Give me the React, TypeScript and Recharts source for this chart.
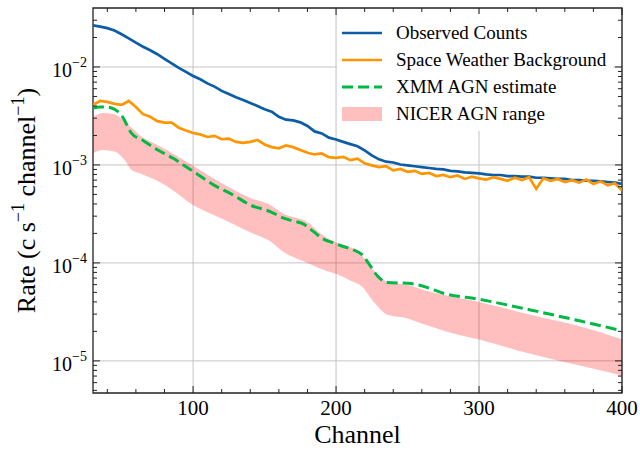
import React from "react"
import { ComposedChart, Line, Area, XAxis, YAxis, CartesianGrid, Legend, ReferenceArea } from "recharts"

const SERIF = '"Liberation Serif", "DejaVu Serif", "Times New Roman", serif'
const BLUE = "#0C5DA5"
const ORANGE = "#FF9500"
const GREEN = "#00B945"
const AXIS = "#222"

const CHART_W = 640
const CHART_H = 450
const MARGIN = { top: 8, right: 18, bottom: 0, left: 0 }
const Y_AXIS_W = 93
const X_AXIS_H = 57
const PLOT_W = CHART_W - MARGIN.left - MARGIN.right - Y_AXIS_W
const PLOT_H = CHART_H - MARGIN.top - MARGIN.bottom - X_AXIS_H

// detector channels, one every 5
const gridChannels = Array.from({ length: 75 }, (_, i) => 30 + i * 5)

const observed = [
  0.0266, 0.0258, 0.0249, 0.0236, 0.0216, 0.0196, 0.0177, 0.0161, 0.0148, 0.0135,
  0.0121, 0.0109, 0.0098, 0.0089, 0.0081, 0.0075, 0.0068, 0.0063, 0.0057, 0.0053,
  0.0049, 0.0046, 0.0043, 0.004, 0.0037, 0.0035, 0.0031, 0.0029, 0.00285, 0.00272,
  0.0025, 0.0022, 0.0021, 0.0019, 0.00182, 0.00172, 0.00163, 0.00155, 0.00141, 0.00125,
  0.00114, 0.00108, 0.00106, 0.00101, 0.00099, 0.00097, 0.00095, 0.00093, 0.00091, 0.0009,
  0.00087, 0.00086, 0.00084, 0.00083, 0.00082, 0.0008, 0.00079, 0.00079, 0.00077, 0.00077,
  0.00076, 0.00076, 0.00074, 0.00074, 0.00073, 0.00072, 0.00072, 0.0007, 0.0007, 0.00069,
  0.00069, 0.00068, 0.00067, 0.00066, 0.00064,
]

const background = [
  0.0041, 0.0045, 0.0044, 0.0042, 0.0041, 0.0045, 0.0039, 0.0033, 0.0031, 0.0028,
  0.0027, 0.0027, 0.0024, 0.00225, 0.00212, 0.00205, 0.00193, 0.00198, 0.00183, 0.00186,
  0.00172, 0.00168, 0.00172, 0.0018, 0.00162, 0.00152, 0.00148, 0.00158, 0.00152, 0.00142,
  0.00133, 0.00128, 0.00131, 0.0012, 0.00118, 0.00121, 0.00112, 0.00116, 0.00104, 0.00099,
  0.00095, 0.00097, 0.00088, 0.00091, 0.00085, 0.00087, 0.00081, 0.00083, 0.00077, 0.00079,
  0.00075, 0.00078, 0.00072, 0.00076, 0.00073, 0.00071, 0.00075, 0.00072, 0.00069, 0.00074,
  0.0007, 0.00075, 0.00057, 0.00073, 0.00069, 0.00072, 0.00067, 0.0007, 0.00066, 0.00071,
  0.00064, 0.00068, 0.00062, 0.00065, 0.00055,
]

const xmmChannels = [
  30, 35, 40, 45, 50, 57, 65, 75, 86, 100, 114, 128, 140, 154, 163, 170, 177, 184, 191,
  198, 205, 212, 218, 223, 229, 236, 250, 264, 275, 300, 336, 371, 400,
]
const xmmEstimate = [
  0.0038, 0.0039, 0.0039, 0.0037, 0.0032, 0.0021, 0.00178, 0.00143, 0.00117, 0.00086,
  0.00063, 0.000494, 0.00039, 0.000334, 0.000288, 0.000268, 0.00025, 0.00021, 0.000176,
  0.00016, 0.000147, 0.000136, 0.000122, 0.000098, 0.0000735, 0.000063, 0.000062,
  0.000056, 0.000049, 0.0000426, 0.0000331, 0.0000255, 0.0000203,
]

const nicerChannels = [
  30, 37, 45, 52, 57, 63, 75, 86, 100, 114, 128, 140, 154, 163, 180, 191, 201, 210, 218,
  227, 236, 250, 263, 277, 300, 336, 371, 400,
]
const nicerLow = [
  0.00132, 0.00142, 0.00137, 0.00113, 0.00089, 0.00082, 0.00069, 0.00055, 0.00039,
  0.00031, 0.00025, 0.000205, 0.000166, 0.00013, 0.0001, 0.000085, 0.000076, 0.000066,
  0.0000575, 0.0000389, 0.0000295, 0.0000271, 0.0000232, 0.00002, 0.0000165, 0.0000118,
  0.0000089, 0.0000071,
]
const nicerHigh = [
  0.0031, 0.0034, 0.0033, 0.0028, 0.0024, 0.002, 0.0016, 0.0013, 0.00098, 0.00073,
  0.00056, 0.00046, 0.00039, 0.00032, 0.00026, 0.00019, 0.00016, 0.000145, 0.00012,
  0.000082, 0.000064, 0.0000595, 0.000052, 0.0000465, 0.00004, 0.0000295, 0.0000224,
  0.0000166,
]

const xMajor = [100, 200, 300, 400]
const xMinor = [40, 60, 80, 120, 140, 160, 180, 220, 240, 260, 280, 320, 340, 360, 380]
const yMajor = [1e-5, 1e-4, 1e-3, 1e-2]
const yMinor = [
  5e-6, 6e-6, 7e-6, 8e-6, 9e-6,
  2e-5, 3e-5, 4e-5, 5e-5, 6e-5, 7e-5, 8e-5, 9e-5,
  2e-4, 3e-4, 4e-4, 5e-4, 6e-4, 7e-4, 8e-4, 9e-4,
  2e-3, 3e-3, 4e-3, 5e-3, 6e-3, 7e-3, 8e-3, 9e-3,
  2e-2, 3e-2,
]

const X_DOMAIN = [30, 400]
const Y_DOMAIN = [4.7e-6, 0.04]

const obsData = gridChannels.map((ch, i) => ({ ch, v: observed[i] }))
const bgData = gridChannels.map((ch, i) => ({ ch, v: background[i] }))
const xmmData = xmmChannels.map((ch, i) => ({ ch, v: xmmEstimate[i] }))
const nicerData = nicerChannels.map((ch, i) => ({ ch, range: [nicerLow[i], nicerHigh[i]] }))

const legendItems = [
  { name: "Observed Counts", kind: "line", color: BLUE },
  { name: "Space Weather Background", kind: "line", color: ORANGE },
  { name: "XMM AGN estimate", kind: "dash", color: GREEN },
  { name: "NICER AGN range", kind: "patch", color: "rgba(255,0,0,0.25)" },
]

// bottom tick: inward marks at bottom and top of the frame, label for majors only
function XTick({ x, y, payload }: any) {
  const major = xMajor.includes(payload.value)
  const len = major ? 7 : 4
  const top = y - PLOT_H
  return (
    <g>
      <line x1={x} y1={y} x2={x} y2={y - len} stroke={AXIS} strokeWidth={1} />
      <line x1={x} y1={top} x2={x} y2={top + len} stroke={AXIS} strokeWidth={1} />
      {major && (
        <text x={x} y={y + 22} textAnchor="middle" fontFamily={SERIF} fontSize={21} fill="#000">
          {payload.value}
        </text>
      )}
    </g>
  )
}

function YTick({ x, y, payload }: any) {
  const major = yMajor.includes(payload.value)
  const len = major ? 7 : 4
  const right = x + PLOT_W
  const exp = Math.round(Math.log10(payload.value))
  return (
    <g>
      <line x1={x} y1={y} x2={x + len} y2={y} stroke={AXIS} strokeWidth={1} />
      <line x1={right} y1={y} x2={right - len} y2={y} stroke={AXIS} strokeWidth={1} />
      {major && (
        <text x={x - 6} y={y + 10} textAnchor="end" fontFamily={SERIF} fontSize={20} fill="#000">
          10
          <tspan dy={-10} fontSize={14}>{"\u2212" + Math.abs(exp)}</tspan>
        </text>
      )}
    </g>
  )
}

function XLabel({ viewBox }: any) {
  const { x, y, width } = viewBox
  return (
    <text x={x + width / 2} y={y + 50} textAnchor="middle" fontFamily={SERIF} fontSize={26} fill="#000">
      Channel
    </text>
  )
}

function YLabel({ viewBox }: any) {
  const cx = viewBox.x + 35
  const cy = viewBox.y + viewBox.height / 2
  return (
    <text
      x={cx}
      y={cy}
      transform={`rotate(-90, ${cx}, ${cy})`}
      textAnchor="middle"
      fontFamily={SERIF}
      fontSize={26}
      fill="#000"
    >
      Rate (c s<tspan dy={-11} fontSize={18}>{"\u22121"}</tspan>
      <tspan dy={11}> channel</tspan>
      <tspan dy={-11} fontSize={18}>{"\u22121"}</tspan>
      <tspan dy={11}>)</tspan>
    </text>
  )
}

function LegendBox() {
  return (
    <div style={{ background: "#fff", padding: "5px 0 4px 5px", fontFamily: SERIF, fontSize: 19, color: "#000" }}>
      {legendItems.map((item) => (
        <div key={item.name} style={{ display: "flex", alignItems: "center", height: 27 }}>
          <svg width={40} height={16} style={{ marginRight: 14, flexShrink: 0 }}>
            {item.kind === "patch" ? (
              <rect x={0} y={1} width={40} height={14} fill={item.color} />
            ) : (
              <line
                x1={0}
                x2={40}
                y1={8}
                y2={8}
                stroke={item.color}
                strokeWidth={item.kind === "dash" ? 3 : 2.7}
                strokeDasharray={item.kind === "dash" ? "11 5" : undefined}
              />
            )}
          </svg>
          <span style={{ whiteSpace: "nowrap", lineHeight: 1 }}>{item.name}</span>
        </div>
      ))}
    </div>
  )
}

const xTicksAll = [...xMinor, ...xMajor]
const yTicksAll = [...yMinor, ...yMajor]

export default function App() {
  return (
    <div style={{ position: "absolute", left: 0, top: 0, width: CHART_W, height: CHART_H, background: "#fff" }}>
      <ComposedChart width={CHART_W} height={CHART_H} margin={MARGIN}>
        <CartesianGrid stroke="#c4c4c4" strokeWidth={1} verticalValues={xMajor} horizontalValues={yMajor} />
        <XAxis
          type="number"
          dataKey="ch"
          domain={X_DOMAIN}
          allowDataOverflow
          ticks={xTicksAll}
          interval={0}
          height={X_AXIS_H}
          tickLine={false}
          tickSize={0}
          tickMargin={0}
          axisLine={false}
          tick={<XTick />}
          label={<XLabel />}
        />
        <YAxis
          scale="log"
          domain={Y_DOMAIN}
          allowDataOverflow
          ticks={yTicksAll}
          interval={0}
          width={Y_AXIS_W}
          tickLine={false}
          tickSize={0}
          tickMargin={0}
          axisLine={false}
          tick={<YTick />}
          label={<YLabel />}
        />
        <Area
          data={nicerData}
          dataKey="range"
          type="monotone"
          fill="#ff0000"
          fillOpacity={0.25}
          stroke="none"
          isAnimationActive={false}
        />
        <Line data={obsData} dataKey="v" type="linear" stroke={BLUE} strokeWidth={2.7} dot={false} isAnimationActive={false} />
        <Line data={bgData} dataKey="v" type="linear" stroke={ORANGE} strokeWidth={2.7} dot={false} isAnimationActive={false} />
        <Line
          data={xmmData}
          dataKey="v"
          type="monotone"
          stroke={GREEN}
          strokeWidth={3}
          strokeDasharray="11 5"
          dot={false}
          isAnimationActive={false}
        />
        <ReferenceArea
          x1={X_DOMAIN[0]}
          x2={X_DOMAIN[1]}
          y1={Y_DOMAIN[0]}
          y2={Y_DOMAIN[1]}
          fill="none"
          fillOpacity={0}
          stroke={AXIS}
          strokeWidth={1.3}
          ifOverflow="visible"
        />
        <Legend
          layout="vertical"
          align="center"
          verticalAlign="middle"
          wrapperStyle={{ left: 337, top: 14, width: 276 }}
          content={() => <LegendBox />}
        />
      </ComposedChart>
    </div>
  )
}
